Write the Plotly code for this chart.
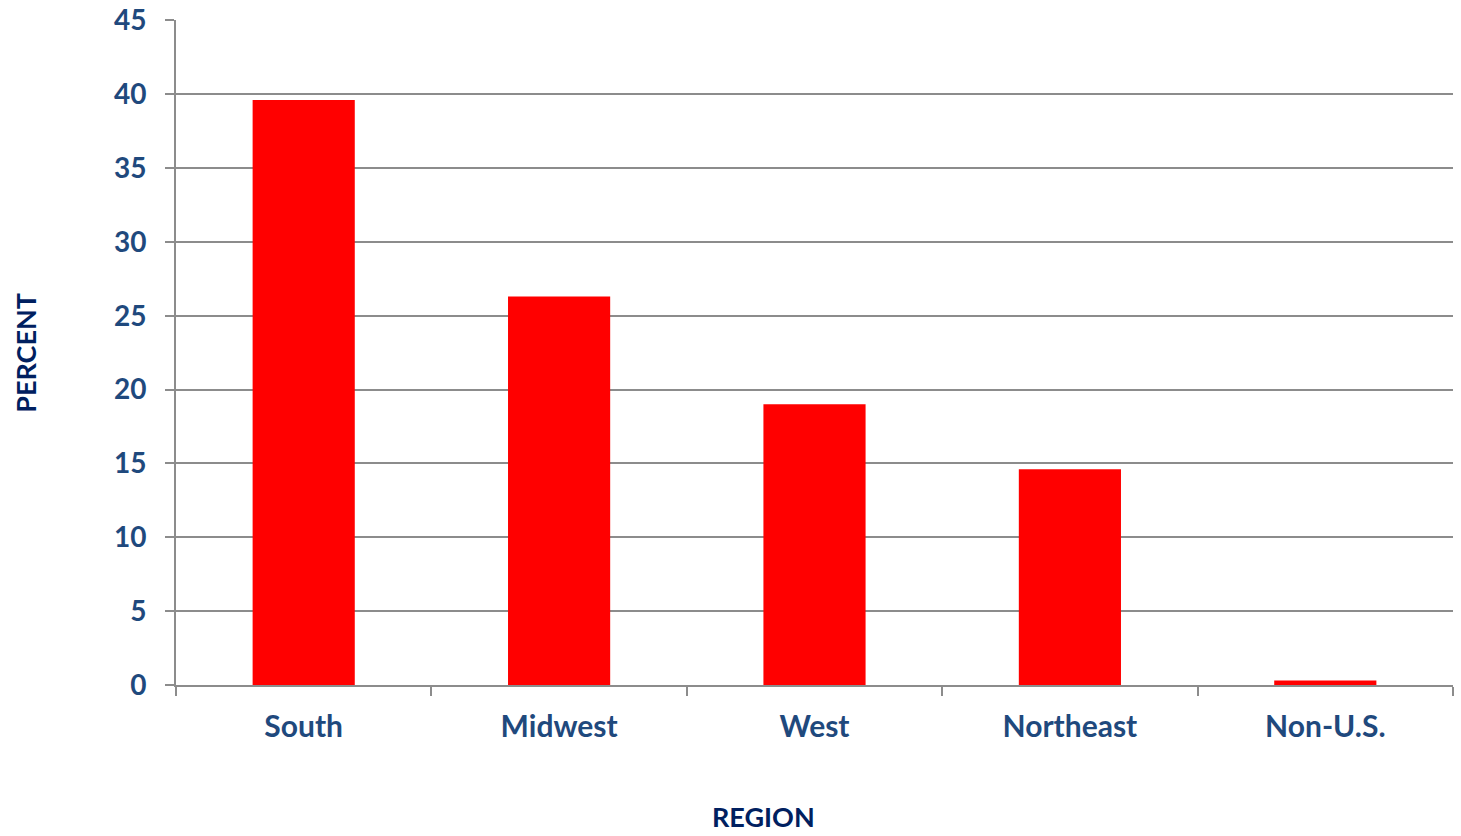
import plotly.graph_objects as go

# data
regions = ["South", "Midwest", "West", "Northeast", "Non-U.S."]
percent = [39.6, 26.3, 19.0, 14.6, 0.3]
y_ticks = [0, 5, 10, 15, 20, 25, 30, 35, 40, 45]

tick_color = "#1F497D"
title_color = "#002060"
grey = "#8C8C8C"
font = "Lato"

fig = go.Figure()
fig.add_trace(go.Bar(x=regions, y=percent, marker=dict(color="#FF0000", line_width=0)))

fig.update_layout(
    width=1461, height=836,
    margin=dict(l=176, r=8, t=20, b=151),
    paper_bgcolor="white", plot_bgcolor="white",
    bargap=0.6, showlegend=False,
    font=dict(family=font, color=tick_color),
)

fig.update_xaxes(
    type="category", showgrid=False, automargin=False,
    showline=True, linecolor=grey, linewidth=2,
    ticks="outside", tickson="boundaries", ticklen=9, tickwidth=2, tickcolor=grey,
    tickfont=dict(family=font, size=30, color=tick_color, weight="bold"),
    ticklabelstandoff=14,
)
fig.update_yaxes(
    range=[0, 45.02], tickvals=y_ticks, automargin=False,
    showgrid=True, gridcolor=grey, gridwidth=2,
    showline=True, linecolor=grey, linewidth=2,
    ticks="outside", ticklen=9, tickwidth=2, tickcolor=grey,
    tickfont=dict(family=font, size=28, color=tick_color, weight="bold"),
    ticklabelstandoff=13, ticklabeloverflow="allow", zeroline=False,
)

# axis titles
fig.add_annotation(text="PERCENT", xref="paper", yref="paper", x=-0.118, y=0.5,
                   xanchor="center", yanchor="middle", textangle=-90, showarrow=False,
                   font=dict(family=font, size=27, color=title_color, weight="bold"))
fig.add_annotation(text="REGION", xref="paper", yref="paper", x=0.46, y=-0.197,
                   xanchor="center", yanchor="middle", showarrow=False,
                   font=dict(family=font, size=27, color=title_color, weight="bold"))

# drop the default 8px body margin so the figure sits at the page corner
fig.write_html("out.html", config={"displayModeBar": False},
               post_script="document.body.style.margin = '0';")
